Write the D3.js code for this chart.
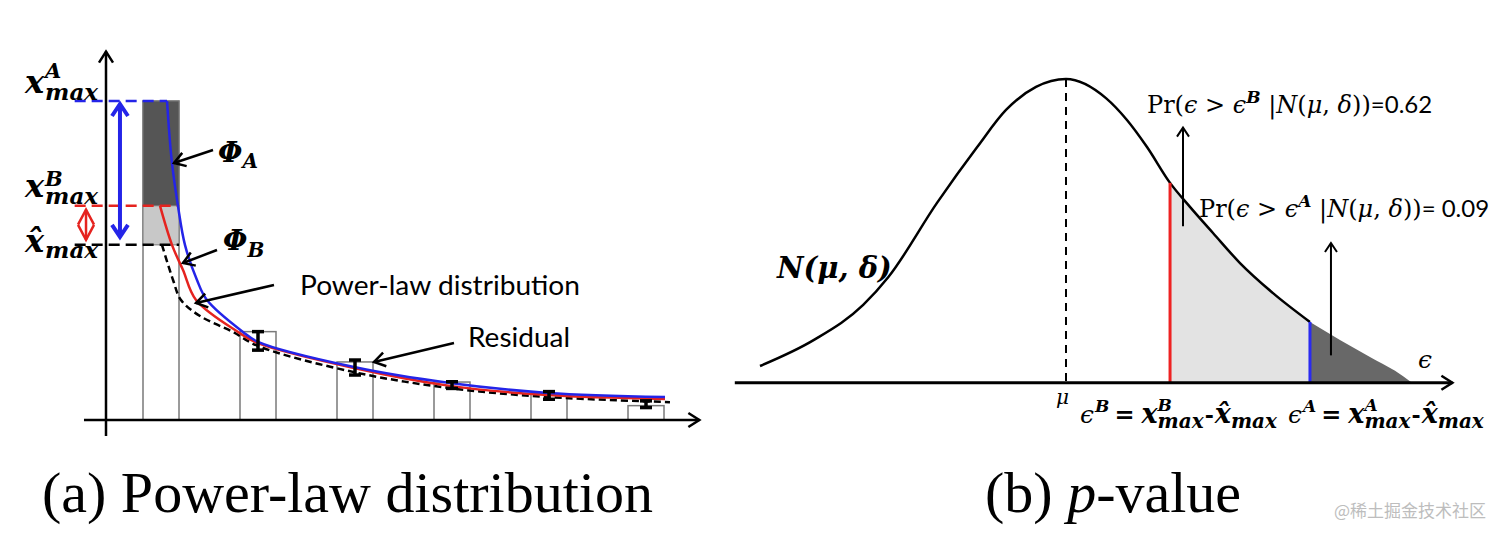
<!DOCTYPE html>
<html>
<head>
<meta charset="utf-8">
<script src="https://cdn.jsdelivr.net/npm/d3@7"></script>
<style>
  body { margin: 0; background: #fff; }
  svg { display: block; }
</style>
</head>
<body>
<div id="chart"></div>
<script>
// ---- (a) histogram of x_max with fitted power-law curves ----
const bins = [1, 2, 3, 4, 5, 6];
const binCounts = [100, 27.7, 18.2, 11.9, 8.2, 4.5];
const errTop = [null, 27.7, 18.8, 12.0, 8.9, 6.0];
const errBottom = [null, 21.9, 14.1, 9.9, 6.5, 3.9];
const xMaxA = 100;
const xMaxB = 67.2;
const xMaxHat = 54.9;

const blueX = [1.062, 1.110, 1.175, 1.247, 1.371, 1.474, 1.845, 2.0, 2.99, 3.979, 4.990, 6.196];
const blueY = [100, 81.5, 67.1, 54.9, 43.9, 37.6, 27.6, 24.5, 16.6, 11.6, 8.5, 7.2];
const redX = [0.990, 1.113, 1.227, 1.361, 1.794, 2.0, 2.99, 3.979, 4.990, 6.196];
const redY = [67.1, 54.9, 47.0, 37.6, 27.6, 24.1, 16.3, 10.7, 7.8, 6.6];
const fitX = [1.010, 1.124, 1.206, 1.402, 1.742, 2.0, 2.99, 3.979, 4.990, 6.247];
const fitY = [54.9, 43.9, 37.6, 32.6, 27.6, 23.2, 15.0, 10.0, 7.2, 5.6];

// ---- (b) distribution of the residual epsilon ----
const epsX = [-2.55, -2.1, -1.69, -1.48, -1.075, -0.74, -0.5, -0.25, 0, 0.333, 0.508, 0.675, 0.867, 1.033, 1.225, 1.45, 1.725, 2.033];
const epsY = [0.055, 0.141, 0.256, 0.348, 0.592, 0.776, 0.898, 0.974, 1, 0.937, 0.865, 0.776, 0.658, 0.579, 0.493, 0.394, 0.295, 0.2];
const tailX = [2.033, 2.283, 2.533, 2.742, 2.883];
const tailY = [0.2, 0.141, 0.085, 0.039, 0];
const epsB = 0.867;
const epsA = 2.033;
const pB = "0.62";
const pA = " 0.09";

const width = 1512, height = 536;
const mathFont = "'DejaVu Serif', serif";
const sansFont = "Lato, 'Open Sans', sans-serif";
const capFont = "'Liberation Serif', 'Times New Roman', serif";

const svg = d3.select("#chart").append("svg")
  .attr("width", width)
  .attr("height", height);

const defs = svg.append("defs");
// open chevron heads
function chevron(id, color, len, half, sw) {
  defs.append("marker")
    .attr("id", id)
    .attr("markerUnits", "userSpaceOnUse")
    .attr("markerWidth", 1).attr("markerHeight", 1)
    .attr("orient", "auto-start-reverse")
    .attr("overflow", "visible")
    .append("path")
    .attr("d", `M${-len},${-half} L0,0 L${-len},${half}`)
    .attr("fill", "none")
    .attr("stroke", color)
    .attr("stroke-width", sw);
}
chevron("headBlack", "#000", 11, 7, 2.5);
chevron("headThin", "#000", 9, 6, 2);
chevron("headBlue", "#2424e8", 12, 8, 4);
chevron("headRed", "#e5231f", 15, 8, 2.5);

function mathText(g, str, px, py, size, style) {
  return g.append("text")
    .attr("x", px).attr("y", py)
    .attr("font-family", mathFont)
    .attr("font-size", size)
    .attr("font-style", style.includes("i") ? "italic" : "normal")
    .attr("font-weight", style.includes("b") ? "bold" : "normal")
    .text(str);
}

// one text element with raised / lowered parts; "under" puts a part below the previous one
function compose(g, px, py, parts) {
  const t = g.append("text")
    .attr("x", px).attr("y", py)
    .attr("font-family", mathFont);
  var rise = 0, prevW = 0;
  parts.forEach(p => {
    const s = t.append("tspan")
      .attr("font-size", p.size)
      .attr("font-style", p.s.includes("i") ? "italic" : "normal")
      .attr("font-weight", p.s.includes("b") ? "bold" : "normal")
      .text(p.t);
    const r = p.rise || 0;
    if (r != rise) s.attr("dy", rise - r);
    rise = r;
    var dx = p.dx || 0;
    if (p.under) dx -= prevW;
    if (dx) s.attr("dx", dx);
    prevW = s.node().getComputedTextLength();
  });
  return t;
}

function arrow(g, x1, y1, x2, y2, head, sw) {
  g.append("line")
    .attr("x1", x1).attr("y1", y1).attr("x2", x2).attr("y2", y2)
    .attr("stroke", "#000").attr("stroke-width", sw)
    .attr("marker-end", `url(#${head})`);
}

/* ============ panel (a) ============ */
const x = d3.scaleLinear().domain([0, 6]).range([64, 646]);
const y = d3.scaleLinear().domain([0, 100]).range([420, 101]);
const barW = 36;
const left = svg.append("g");

// bars
left.selectAll("rect.bin")
  .data(bins)
  .join("rect")
  .attr("class", "bin")
  .attr("x", d => x(d) - barW / 2)
  .attr("y", (d, i) => y(binCounts[i]))
  .attr("width", barW)
  .attr("height", (d, i) => y(0) - y(binCounts[i]))
  .attr("fill", "#fff")
  .attr("stroke", "#7a7a7a")
  .attr("stroke-width", 1.5);

// shaded parts of the first bin
const segs = [
  {lo: xMaxHat, hi: xMaxB, fill: "#c8c8c8"},
  {lo: xMaxB, hi: xMaxA, fill: "#555555"}
];
left.selectAll("rect.seg")
  .data(segs)
  .join("rect")
  .attr("class", "seg")
  .attr("x", x(bins[0]) - barW / 2)
  .attr("y", d => y(d.hi))
  .attr("width", barW)
  .attr("height", d => y(d.lo) - y(d.hi))
  .attr("fill", d => d.fill)
  .attr("stroke", "#7a7a7a")
  .attr("stroke-width", 1);

// axes
left.append("line")
  .attr("x1", x(0.206)).attr("x2", x(6.55))
  .attr("y1", y(0)).attr("y2", y(0))
  .attr("stroke", "#000").attr("stroke-width", 2.5)
  .attr("marker-end", "url(#headBlack)");
left.append("line")
  .attr("x1", x(0.433)).attr("x2", x(0.433))
  .attr("y1", y(-5)).attr("y2", y(115.5))
  .attr("stroke", "#000").attr("stroke-width", 2.5)
  .attr("marker-end", "url(#headBlack)");

// dashed levels
const levels = [
  {v: xMaxA, end: blueX[0], color: "#2424e8"},
  {v: xMaxB, end: 1.175, color: "#e5231f"},
  {v: xMaxHat, end: bins[0] + 0.186, color: "#000"}
];
left.selectAll("line.level")
  .data(levels)
  .join("line")
  .attr("class", "level")
  .attr("x1", x(0.11)).attr("x2", d => x(d.end))
  .attr("y1", d => y(d.v)).attr("y2", d => y(d.v))
  .attr("stroke", d => d.color)
  .attr("stroke-width", 2.5)
  .attr("stroke-dasharray", "11,6");

// curves
const line = d3.line()
  .x(d => x(d[0]))
  .y(d => y(d[1]))
  .curve(d3.curveCatmullRom.alpha(0.5));

left.append("path")
  .attr("d", line(d3.zip(fitX, fitY)))
  .attr("fill", "none").attr("stroke", "#000")
  .attr("stroke-width", 2.5).attr("stroke-dasharray", "7,4");
left.append("path")
  .attr("d", line(d3.zip(redX, redY)))
  .attr("fill", "none").attr("stroke", "#e5231f").attr("stroke-width", 2.5);
left.append("path")
  .attr("d", line(d3.zip(blueX, blueY)))
  .attr("fill", "none").attr("stroke", "#2424e8").attr("stroke-width", 2.5);

// error bars
const errs = bins.map((b, i) => ({b: b, hi: errTop[i], lo: errBottom[i]}))
  .filter(d => d.hi != null);
const eb = left.selectAll("g.err").data(errs).join("g").attr("class", "err");
eb.append("line")
  .attr("x1", d => x(d.b)).attr("x2", d => x(d.b))
  .attr("y1", d => y(d.hi)).attr("y2", d => y(d.lo))
  .attr("stroke", "#000").attr("stroke-width", 3.5);
["hi", "lo"].forEach(k => {
  eb.append("line")
    .attr("x1", d => x(d.b) - 6).attr("x2", d => x(d.b) + 6)
    .attr("y1", d => y(d[k])).attr("y2", d => y(d[k]))
    .attr("stroke", "#000").attr("stroke-width", 3.5);
});

// double arrows between levels
left.append("line")
  .attr("x1", x(0.577)).attr("x2", x(0.577))
  .attr("y1", y(xMaxA) + 3).attr("y2", y(xMaxHat) - 8)
  .attr("stroke", "#2424e8").attr("stroke-width", 4)
  .attr("marker-start", "url(#headBlue)")
  .attr("marker-end", "url(#headBlue)");
left.append("line")
  .attr("x1", x(0.227)).attr("x2", x(0.227))
  .attr("y1", y(xMaxB) + 4).attr("y2", y(xMaxHat) - 5)
  .attr("stroke", "#e5231f").attr("stroke-width", 2.5)
  .attr("marker-start", "url(#headRed)")
  .attr("marker-end", "url(#headRed)");

// level labels
compose(left, 25, 93, [
  {t: "x", size: 32, s: "bi"},
  {t: "A", size: 21, s: "bi", rise: 15, dx: 1},
  {t: "max", size: 23, s: "bi", rise: -7, under: true}
]);
compose(left, 25, 197, [
  {t: "x", size: 32, s: "bi"},
  {t: "B", size: 21, s: "bi", rise: 11, dx: 1},
  {t: "max", size: 23, s: "bi", rise: -7, under: true}
]);
compose(left, 25, 252, [
  {t: "x\u0302", size: 32, s: "bi"},
  {t: "max", size: 23, s: "bi", rise: -6, dx: 1}
]);

// annotations
compose(left, 218, 162, [
  {t: "\u03A6", size: 28, s: "bi"},
  {t: "A", size: 20, s: "bi", rise: -6}
]);
compose(left, 223, 250, [
  {t: "\u03A6", size: 28, s: "bi"},
  {t: "B", size: 20, s: "bi", rise: -7}
]);
arrow(left, 213, 150, 174, 163, "headBlack", 2.5);
arrow(left, 217, 250, 183, 263, "headBlack", 2.5);

left.append("text")
  .attr("x", 300).attr("y", 295)
  .attr("font-family", sansFont).attr("font-size", 26)
  .attr("textLength", 280).attr("lengthAdjust", "spacingAndGlyphs")
  .text("Power-law distribution");
arrow(left, 274, 285, 196, 303, "headBlack", 2.5);
left.append("text")
  .attr("x", 468).attr("y", 347)
  .attr("font-family", sansFont).attr("font-size", 26)
  .attr("textLength", 102).attr("lengthAdjust", "spacingAndGlyphs")
  .text("Residual");
arrow(left, 454, 343, 374, 362, "headBlack", 2.5);

/* ============ panel (b) ============ */
const ex = d3.scaleLinear().domain([0, 1]).range([1066, 1186]);
const ey = d3.scaleLinear().domain([0, 1]).range([382.7, 79]);
const right = svg.append("g");
const pts = d3.zip(epsX, epsY);

const area = d3.area()
  .x(d => ex(d[0]))
  .y0(ey(0))
  .y1(d => ey(d[1]))
  .curve(d3.curveMonotoneX);

right.append("path")
  .attr("d", area(pts.filter(d => d[0] >= epsB && d[0] <= epsA)))
  .attr("fill", "#e3e3e3");
right.append("path")
  .attr("d", area(d3.zip(tailX, tailY)))
  .attr("fill", "#686868");

// mean
right.append("line")
  .attr("x1", ex(0)).attr("x2", ex(0))
  .attr("y1", ey(1)).attr("y2", ey(0))
  .attr("stroke", "#000").attr("stroke-width", 2)
  .attr("stroke-dasharray", "8,6");

// density curve
right.append("path")
  .attr("d", d3.line().x(d => ex(d[0])).y(d => ey(d[1])).curve(d3.curveMonotoneX)(pts))
  .attr("fill", "none").attr("stroke", "#000").attr("stroke-width", 2.5);

// thresholds
const cuts = [
  {e: epsB, color: "#ee2222"},
  {e: epsA, color: "#2a2af0"}
];
right.selectAll("line.cut")
  .data(cuts)
  .join("line")
  .attr("class", "cut")
  .attr("x1", d => ex(d.e)).attr("x2", d => ex(d.e))
  .attr("y1", ey(0))
  .attr("y2", d => ey(epsY[epsX.indexOf(d.e)]))
  .attr("stroke", d => d.color)
  .attr("stroke-width", 3);

// epsilon axis
right.append("line")
  .attr("x1", ex(-2.76)).attr("x2", ex(3.22))
  .attr("y1", ey(0)).attr("y2", ey(0))
  .attr("stroke", "#000").attr("stroke-width", 3)
  .attr("marker-end", "url(#headBlack)");

mathText(right, "N(\u03BC, \u03B4)", 777, 278, 29, "bi");
mathText(right, "\u03F5", 1418, 368, 25, "i");
mathText(right, "\u03BC", 1056, 404, 20, "i");

// p-value arrows
arrow(right, ex(0.975), ey(0.515), ex(0.975), ey(0.84), "headThin", 2);
arrow(right, ex(2.208), ey(0.09), ex(2.208), ey(0.46), "headThin", 2);

function prText(px, py, sup, p) {
  const t = right.append("text")
    .attr("x", px).attr("y", py)
    .attr("font-family", mathFont).attr("font-size", 24);
  t.append("tspan").text("Pr(");
  t.append("tspan").attr("font-style", "italic").text("\u03F5");
  t.append("tspan").text(" > ");
  t.append("tspan").attr("font-style", "italic").text("\u03F5");
  t.append("tspan").attr("font-style", "italic").attr("font-weight", "bold")
    .attr("font-size", 17).attr("dy", -10).text(sup);
  t.append("tspan").attr("dy", 10).text(" |");
  t.append("tspan").attr("font-style", "italic").text("N");
  t.append("tspan").text("(");
  t.append("tspan").attr("font-style", "italic").text("\u03BC");
  t.append("tspan").text(", ");
  t.append("tspan").attr("font-style", "italic").text("\u03B4");
  t.append("tspan").text("))");
  t.append("tspan").attr("font-family", sansFont).attr("font-size", 24).text("=" + p);
}
prText(1147, 113, "B", pB);
prText(1199, 217, "A", pA);

// epsilon definitions under the axis
function epsDef(ox, sup) {
  compose(right, ox, 423, [
    {t: "\u03F5", size: 25, s: "i"},
    {t: sup, size: 17, s: "bi", rise: 11, dx: 1},
    {t: "=", size: 24, s: "b", rise: 0, dx: 5},
    {t: "x", size: 27, s: "bi", dx: 7},
    {t: sup, size: 17, s: "bi", rise: 12},
    {t: "max", size: 20, s: "bi", rise: -5, under: true},
    {t: "-", size: 22, s: "b", rise: 0, dx: 1},
    {t: "x\u0302", size: 27, s: "bi", dx: 1},
    {t: "max", size: 20, s: "bi", rise: -5}
  ]);
}
epsDef(1080, "B");
epsDef(1288, "A");

/* ============ captions ============ */
svg.append("text")
  .attr("x", 42).attr("y", 512)
  .attr("font-family", capFont).attr("font-size", 58)
  .text("(a) Power-law distribution");
const capB = svg.append("text")
  .attr("x", 985).attr("y", 512)
  .attr("font-family", capFont).attr("font-size", 58);
capB.append("tspan").text("(b) ");
capB.append("tspan").attr("font-style", "italic").text("p");
capB.append("tspan").text("-value");

svg.append("text")
  .attr("x", 1334).attr("y", 517)
  .attr("font-family", "'Noto Sans CJK SC', sans-serif")
  .attr("font-size", 17)
  .attr("fill", "#bdbdbd")
  .text("@稀土掘金技术社区");
</script>
</body>
</html>
